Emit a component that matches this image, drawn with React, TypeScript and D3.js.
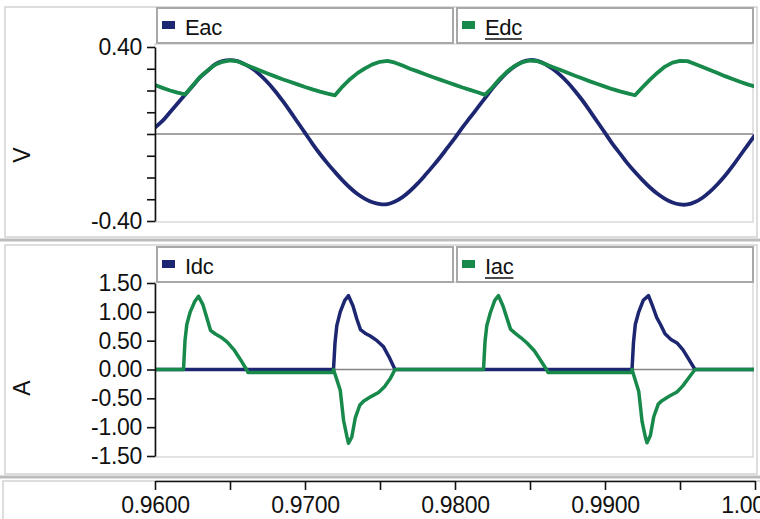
import React, { useEffect, useRef } from 'react';
import * as d3 from 'd3';

// time samples for the voltage panel (s)
const timeV = [
  0.9600, 0.9605, 0.9610, 0.9615, 0.9620, 0.9625, 0.9630, 0.9635, 0.9640, 0.9645,
  0.9650, 0.9655, 0.9660, 0.9665, 0.9670, 0.9675, 0.9680, 0.9685, 0.9690, 0.9695,
  0.9700, 0.9705, 0.9710, 0.9715, 0.9720, 0.9725, 0.9730, 0.9735, 0.9740, 0.9745,
  0.9750, 0.9755, 0.9760, 0.9765, 0.9770, 0.9775, 0.9780, 0.9785, 0.9790, 0.9795,
  0.9800, 0.9805, 0.9810, 0.9815, 0.9820, 0.9825, 0.9830, 0.9835, 0.9840, 0.9845,
  0.9850, 0.9855, 0.9860, 0.9865, 0.9870, 0.9875, 0.9880, 0.9885, 0.9890, 0.9895,
  0.9900, 0.9905, 0.9910, 0.9915, 0.9920, 0.9925, 0.9930, 0.9935, 0.9940, 0.9945,
  0.9950, 0.9955, 0.9960, 0.9965, 0.9970, 0.9975, 0.9980, 0.9985, 0.9990, 0.9995,
  1.0000,
];

const eac = [
  0.03, 0.06, 0.10, 0.14, 0.18, 0.22, 0.26, 0.29, 0.32, 0.335,
  0.34, 0.335, 0.32, 0.30, 0.272, 0.238, 0.198, 0.153, 0.105, 0.055,
  0.005, -0.045, -0.092, -0.135, -0.175, -0.213, -0.247, -0.276, -0.298, -0.314,
  -0.322, -0.322, -0.31, -0.29, -0.262, -0.228, -0.19, -0.15, -0.108, -0.063,
  -0.018, 0.03, 0.075, 0.12, 0.165, 0.21, 0.25, 0.285, 0.312, 0.332,
  0.34, 0.336, 0.322, 0.30, 0.272, 0.238, 0.198, 0.154, 0.105, 0.055,
  0.005, -0.045, -0.09, -0.135, -0.175, -0.212, -0.246, -0.275, -0.298, -0.315,
  -0.324, -0.324, -0.313, -0.293, -0.265, -0.231, -0.192, -0.148, -0.10, -0.052,
  -0.005,
];

const edc = [
  0.225, 0.212, 0.20, 0.19, 0.182, 0.222, 0.262, 0.292, 0.318, 0.332,
  0.338, 0.334, 0.32, 0.306, 0.292, 0.278, 0.265, 0.252, 0.24, 0.228,
  0.216, 0.205, 0.195, 0.186, 0.178, 0.218, 0.252, 0.28, 0.302, 0.32,
  0.332, 0.336, 0.328, 0.315, 0.30, 0.288, 0.275, 0.262, 0.25, 0.238,
  0.226, 0.214, 0.203, 0.192, 0.18, 0.215, 0.255, 0.288, 0.314, 0.33,
  0.338, 0.335, 0.322, 0.308, 0.295, 0.282, 0.268, 0.255, 0.242, 0.23,
  0.218, 0.206, 0.196, 0.187, 0.178, 0.215, 0.25, 0.282, 0.31, 0.328,
  0.336, 0.335, 0.322, 0.308, 0.294, 0.28, 0.266, 0.253, 0.24, 0.228,
  0.218,
];

// current panel, irregular samples
const idcTime = [
  0.9600, 0.9719, 0.9720, 0.97212, 0.97235, 0.97265, 0.9729, 0.9732, 0.97345, 0.9737,
  0.9740, 0.97435, 0.9748, 0.97522, 0.9756, 0.9760,
  0.9918, 0.9919, 0.99202, 0.99225, 0.99255, 0.9929, 0.9932, 0.99345, 0.9937,
  0.9940, 0.9944, 0.9948, 0.9952, 0.9956, 0.9960, 1.0000,
];
const idc = [
  0, 0, 0.46, 0.76, 1.0, 1.2, 1.28, 1.1, 0.88, 0.69,
  0.63, 0.58, 0.5, 0.40, 0.22, 0,
  0, 0.47, 0.78, 1.0, 1.2, 1.28, 1.08, 0.9, 0.78,
  0.62, 0.52, 0.46, 0.34, 0.17, 0, 0,
];

const iacTime = [
  0.9600, 0.9619, 0.9620, 0.96212, 0.96235, 0.96265, 0.9629, 0.9632, 0.96345, 0.9637,
  0.9640, 0.9644, 0.9648, 0.9653, 0.9657, 0.9661, 0.9662, 0.97185,
  0.9719, 0.97235, 0.97257, 0.9728, 0.9729, 0.97312, 0.97335, 0.97365, 0.9739,
  0.9744, 0.9749, 0.9753, 0.9757, 0.9760, 0.9819,
  0.9820, 0.98212, 0.98235, 0.98265, 0.9829, 0.9832, 0.98345, 0.9837,
  0.9840, 0.9844, 0.9848, 0.9853, 0.9857, 0.9861, 0.9862, 0.99175,
  0.9918, 0.99225, 0.99247, 0.9927, 0.9928, 0.99302, 0.99325, 0.99355, 0.9938,
  0.9943, 0.9948, 0.9952, 0.9956, 0.9960, 1.0000,
];
const iac = [
  0, 0, 0.5, 0.78, 1.0, 1.18, 1.27, 1.12, 0.9, 0.68,
  0.62, 0.56, 0.48, 0.33, 0.17, 0, -0.05, -0.05,
  0, -0.36, -0.88, -1.17, -1.28, -1.17, -0.84, -0.62, -0.55,
  -0.47, -0.40, -0.30, -0.15, 0, 0,
  0.48, 0.76, 0.98, 1.2, 1.28, 1.1, 0.9, 0.7,
  0.63, 0.55, 0.46, 0.32, 0.16, 0, -0.05, -0.05,
  0, -0.38, -0.9, -1.18, -1.27, -1.15, -0.82, -0.6, -0.54,
  -0.46, -0.39, -0.28, -0.14, 0, 0,
];

const voltTicks = [0.4, 0.3, 0.2, 0.1, 0, -0.1, -0.2, -0.3, -0.4];
const voltLabels = [0.4, -0.4];
const ampTicks = [1.5, 1.0, 0.5, 0, -0.5, -1.0, -1.5];
const timeTicks = [0.96, 0.965, 0.97, 0.975, 0.98, 0.985, 0.99, 0.995, 1.0];
const timeLabels = [0.96, 0.97, 0.98, 0.99, 1.0];

const topLegend = ['Eac', 'Edc'];
const bottomLegend = ['Idc', 'Iac'];

const NAVY = '#1d2670';
const GREEN = '#17894b';
const FONT = '"Liberation Sans", Arial, sans-serif';

const App: React.FC = () => {
  const svgRef = useRef<SVGSVGElement>(null);
  const width = 760;
  const height = 519;

  useEffect(() => {
    if (!svgRef.current) return;
    const svg = d3.select(svgRef.current);
    svg.selectAll('*').remove();

    const x = d3.scaleLinear().domain([0.96, 1.0]).range([155, 755]);
    const yV = d3.scaleLinear().domain([-0.4, 0.4]).range([221, 47]);
    const yA = d3.scaleLinear().domain([-1.5, 1.5]).range([456, 283]);

    svg.append('rect').attr('width', width).attr('height', height).attr('fill', '#fff');

    // panel frames
    svg.append('rect').attr('x', 5).attr('y', 7).attr('width', 752).attr('height', 230)
      .attr('fill', 'none').attr('stroke', '#d2d2d2').attr('stroke-width', 1.5);
    svg.append('rect').attr('x', 5).attr('y', 245).attr('width', 752).attr('height', 229)
      .attr('fill', 'none').attr('stroke', '#d2d2d2').attr('stroke-width', 1.5);
    svg.append('rect').attr('x', 3).attr('y', 481).attr('width', 770).attr('height', 60)
      .attr('fill', 'none').attr('stroke', '#d2d2d2').attr('stroke-width', 1.5);
    [240, 477].forEach(yy => {
      svg.append('line').attr('x1', 0).attr('x2', width).attr('y1', yy).attr('y2', yy)
        .attr('stroke', '#bcbcbc').attr('stroke-width', 3);
    });

    // plot area borders
    svg.append('rect').attr('x', 155).attr('y', 44).attr('width', 598).attr('height', 178)
      .attr('fill', 'none').attr('stroke', '#dadada').attr('stroke-width', 1.5);
    svg.append('rect').attr('x', 155).attr('y', 282).attr('width', 598).attr('height', 175)
      .attr('fill', 'none').attr('stroke', '#dadada').attr('stroke-width', 1.5);

    // legends
    const drawLegend = (names: string[], colors: string[], top: number, underline: boolean[]) => {
      names.forEach((name, i) => {
        const cx = 157 + i * 300;
        svg.append('rect').attr('x', cx).attr('y', top).attr('width', 296).attr('height', 35)
          .attr('fill', '#fff').attr('stroke', '#a8a8a8').attr('stroke-width', 2);
        svg.append('rect').attr('x', cx + 5).attr('y', top + 13).attr('width', 13).attr('height', 8)
          .attr('fill', colors[i]);
        const t = svg.append('text').attr('x', cx + 28).attr('y', top + 27)
          .attr('font-family', FONT).attr('font-size', 22).attr('fill', '#111')
          .attr('letter-spacing', -0.3).text(name);
        if (underline[i]) {
          const w = (t.node() as SVGTextElement).getComputedTextLength();
          svg.append('line').attr('x1', cx + 28).attr('x2', cx + 28 + w)
            .attr('y1', top + 31).attr('y2', top + 31).attr('stroke', '#111').attr('stroke-width', 1.5);
        }
      });
    };
    drawLegend(topLegend, [NAVY, GREEN], 8, [false, true]);
    drawLegend(bottomLegend, [NAVY, GREEN], 247, [false, true]);

    // zero lines
    svg.append('line').attr('x1', 155).attr('x2', 753).attr('y1', yV(0)).attr('y2', yV(0))
      .attr('stroke', '#858585').attr('stroke-width', 1.5);
    svg.append('line').attr('x1', 155).attr('x2', 753).attr('y1', yA(0)).attr('y2', yA(0))
      .attr('stroke', '#858585').attr('stroke-width', 1.5);

    // clip
    const defs = svg.append('defs');
    defs.append('clipPath').attr('id', 'clipTop').append('rect')
      .attr('x', 155).attr('y', 44).attr('width', 599).attr('height', 180);
    defs.append('clipPath').attr('id', 'clipBot').append('rect')
      .attr('x', 155).attr('y', 283).attr('width', 599).attr('height', 176);

    const lineV = d3.line<[number, number]>().x(d => x(d[0])).y(d => yV(d[1]));
    const lineA = d3.line<[number, number]>().x(d => x(d[0])).y(d => yA(d[1]));

    const gTop = svg.append('g').attr('clip-path', 'url(#clipTop)');
    gTop.append('path').datum(d3.zip(timeV, eac) as [number, number][])
      .attr('fill', 'none').attr('stroke', NAVY).attr('stroke-width', 3.8)
      .attr('stroke-linejoin', 'round')
      .attr('d', lineV.curve(d3.curveCatmullRom));
    gTop.append('path').datum(d3.zip(timeV, edc) as [number, number][])
      .attr('fill', 'none').attr('stroke', GREEN).attr('stroke-width', 3.8)
      .attr('stroke-linejoin', 'round')
      .attr('d', lineV.curve(d3.curveLinear));

    const gBot = svg.append('g').attr('clip-path', 'url(#clipBot)');
    gBot.append('path').datum(d3.zip(idcTime, idc) as [number, number][])
      .attr('fill', 'none').attr('stroke', NAVY).attr('stroke-width', 3.5)
      .attr('stroke-linejoin', 'round').attr('d', lineA);
    gBot.append('path').datum(d3.zip(iacTime, iac) as [number, number][])
      .attr('fill', 'none').attr('stroke', GREEN).attr('stroke-width', 3.5)
      .attr('stroke-linejoin', 'round').attr('d', lineA);

    // axes
    const styleAxis = (g: d3.Selection<SVGGElement, unknown, null, undefined>) => {
      g.select('.domain').attr('stroke', '#111').attr('stroke-width', 1.6);
      g.selectAll('.tick line').attr('stroke', '#111').attr('stroke-width', 1.6);
      g.selectAll('.tick text').attr('font-family', FONT).attr('font-size', 23)
        .attr('fill', '#111').attr('letter-spacing', -0.3);
    };

    const axV = svg.append('g').attr('transform', 'translate(155,0)')
      .call(d3.axisLeft(yV).tickValues(voltTicks).tickSize(8).tickSizeOuter(0).tickPadding(5)
        .tickFormat(d => (voltLabels.includes(+d) ? (+d).toFixed(2) : '')));
    styleAxis(axV);

    const axA = svg.append('g').attr('transform', 'translate(155,0)')
      .call(d3.axisLeft(yA).tickValues(ampTicks).tickSize(8).tickSizeOuter(0).tickPadding(5)
        .tickFormat(d => (+d).toFixed(2)));
    styleAxis(axA);

    const axT = svg.append('g').attr('transform', 'translate(0,481)')
      .call(d3.axisBottom(x).tickValues(timeTicks).tickSize(9).tickSizeOuter(0).tickPadding(7)
        .tickFormat(d => (timeLabels.some(v => Math.abs(v - +d) < 1e-9) ? (+d).toFixed(4) : '')));
    styleAxis(axT);

    // axis titles
    svg.append('text').attr('transform', 'translate(22,155) rotate(-90)')
      .attr('text-anchor', 'middle').attr('dominant-baseline', 'central')
      .attr('font-family', FONT).attr('font-size', 23).attr('fill', '#111').text('V');
    svg.append('text').attr('transform', 'translate(22,388) rotate(-90)')
      .attr('text-anchor', 'middle').attr('dominant-baseline', 'central')
      .attr('font-family', FONT).attr('font-size', 23).attr('fill', '#111').text('A');
  }, []);

  return (
    <svg ref={svgRef} width={width} height={height}
      style={{ position: 'absolute', left: 0, top: 0, display: 'block' }} />
  );
};

export default App;
